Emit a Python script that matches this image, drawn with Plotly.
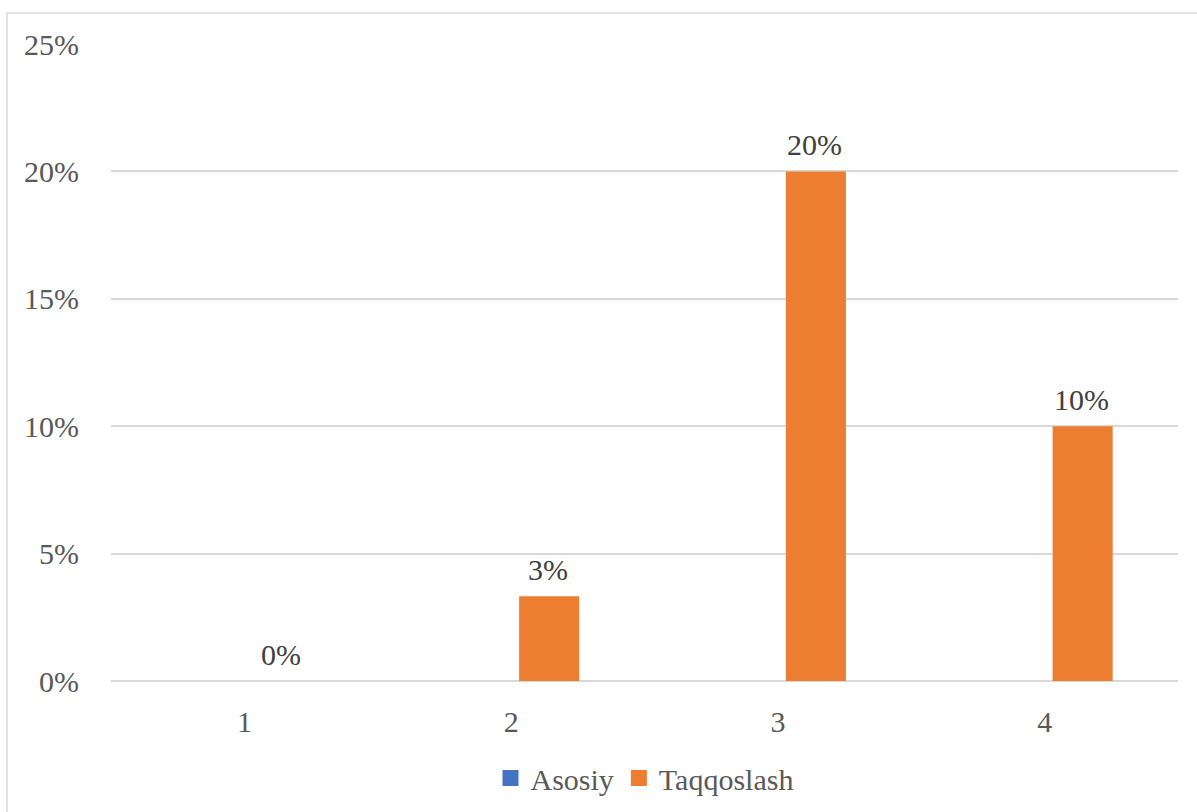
import plotly.graph_objects as go

# Chart data
categories = ["1", "2", "3", "4"]
asosiy = [None, None, None, None]
taqqoslash = [0.0, 0.0333, 0.20, 0.10]
taqqoslash_labels = ["0%", "3%", "20%", "10%"]
y_ticks = [0, 0.05, 0.10, 0.15, 0.20, 0.25]
y_tick_labels = ["0%", "5%", "10%", "15%", "20%", "25%"]

BLUE, ORANGE = "#4472C4", "#ED7D31"

W, H = 1197, 812
L, R, T, B = 111, 19, 44, 131
pw, ph = W - L - R, H - T - B

font_family = "Liberation Serif"
FS = 30

fig = go.Figure()
fig.add_trace(go.Bar(
    name="Asosiy", x=categories, y=asosiy, showlegend=False,
    marker=dict(color=BLUE, line=dict(width=0)),
))
fig.add_trace(go.Bar(
    name="Taqqoslash", x=categories, y=taqqoslash, showlegend=False,
    marker=dict(color=ORANGE, line=dict(width=0)),
))

# Legend entries with square swatches
for name, color in [("Asosiy", BLUE), ("Taqqoslash", ORANGE)]:
    fig.add_trace(go.Scatter(
        x=[categories[0]], y=[None], mode="markers", name=name,
        marker=dict(symbol="square", size=16, color=color),
    ))

# Value labels above the orange bars (category index positions)
for i, (val, lab) in enumerate(zip(taqqoslash, taqqoslash_labels)):
    fig.add_annotation(
        x=i, y=val, text=lab, showarrow=False,
        xshift=37, yshift=27, yanchor="middle",
        font=dict(family=font_family, size=FS, color="#404040"),
    )

# Outer chart border
fig.add_shape(
    type="rect", xref="paper", yref="paper",
    x0=(7 - L) / pw, x1=(W + 5 - L) / pw,
    y0=-(H + 5 - (T + ph)) / ph, y1=1 + (T - 13) / ph,
    line=dict(color="#D9D9D9", width=1.5), fillcolor="rgba(0,0,0,0)",
    layer="below",
)

fig.update_layout(
    width=W, height=H,
    margin=dict(l=L, r=R, t=T, b=B, pad=0, autoexpand=False),
    paper_bgcolor="white", plot_bgcolor="white",
    barmode="group", bargap=0.43, bargroupgap=0.21,
    font=dict(family=font_family, size=FS, color="#595959"),
    showlegend=True,
    legend=dict(
        orientation="h", x=0.5, xanchor="center",
        yref="container", y=1 - 778 / H, yanchor="middle",
        font=dict(family=font_family, size=FS, color="#595959"),
        itemwidth=30, traceorder="normal",
    ),
    xaxis=dict(
        type="category", categoryorder="array", categoryarray=categories,
        range=[-0.5, len(categories) - 0.5],
        showgrid=False, showline=False, zeroline=False,
        ticks="outside", ticklen=14, tickcolor="rgba(0,0,0,0)",
        tickfont=dict(family=font_family, size=FS, color="#595959"),
    ),
    yaxis=dict(
        range=[0, 0.25], tickvals=y_ticks, ticktext=y_tick_labels,
        showgrid=True, gridcolor="#D9D9D9", gridwidth=1.5,
        zeroline=True, zerolinecolor="#D9D9D9", zerolinewidth=1.5,
        showline=False,
        ticks="outside", ticklen=25, tickcolor="rgba(0,0,0,0)",
        tickfont=dict(family=font_family, size=FS, color="#595959"),
    ),
)

fig.write_html("out.html")
